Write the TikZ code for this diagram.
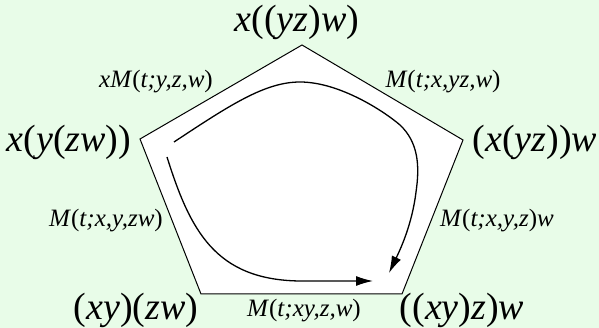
\documentclass[tikz,border=0pt]{standalone}
\usepackage{fontspec}
\setmainfont{Liberation Serif}
\usetikzlibrary{arrows.meta}
\definecolor{bgc}{RGB}{232,252,232}
\newcommand\I[1]{\textit{#1}}
\begin{document}
\begin{tikzpicture}[x=1pt,y=-1pt,
  vlab/.style={inner sep=0pt,font=\fontsize{38}{38}\selectfont},
  elab/.style={inner sep=0pt,font=\fontsize{25}{25}\selectfont},
  flow/.style={line width=1.3pt,-{Latex[length=17pt,width=10pt]}}]
\fill[bgc] (0,0) rectangle (599,328);
\useasboundingbox (0,0) rectangle (599,328);
\coordinate (T) at (302,45);
\coordinate (L) at (140,139);
\coordinate (R) at (463,140);
\coordinate (BL) at (201,294);
\coordinate (BR) at (402,294);
\draw[line width=1pt,fill=white] (T) -- (R) -- (BR) -- (BL) -- (L) -- cycle;
\node[vlab] (nT) at (297,22) {\I{x}((\I{yz})\I{w})};
\node[vlab] (nL) at (69,142) {\I{x}(\I{y}(\I{zw}))};
\node[vlab] (nR) at (535,142) {(\I{x}(\I{yz}))\I{w}};
\node[vlab] (nBL) at (136,310) {(\I{xy})(\I{zw})};
\node[vlab] (nBR) at (462,310) {((\I{xy})\I{z})\I{w}};
\node[elab] (e1) at (156,82) {\I{xM}(\I{t;y,z,w})};
\node[elab] (e2) at (443,82) {\I{M}(\I{t;x,yz,w})};
\node[elab] (e3) at (106,221) {\I{M}(\I{t;x,y,zw})};
\node[elab] (e4) at (497,221) {\I{M}(\I{t;x,y,z})\I{w}};
\node[elab] (e5) at (304,311) {\I{M}(\I{t;xy,z,w})};
\coordinate (a1s) at (174,142);
\coordinate (a1m) at (300,82);
\coordinate (a1n) at (416,192);
\coordinate (a1e) at (389,273);
\coordinate (a2s) at (167,157);
\coordinate (a2m) at (300,281);
\coordinate (a2e) at (373,281);
\draw[flow] (a1s) .. controls (230,105) and (265,82) .. (a1m)
  .. controls (340,82) and (385,112) .. (400,125)
  .. controls (418,142) and (420,165) .. (a1n)
  .. controls (412,225) and (400,250) .. (a1e);
\draw[flow] (a2s) .. controls (190,230) and (215,280) .. (a2m) -- (a2e);
\end{tikzpicture}
\end{document}
